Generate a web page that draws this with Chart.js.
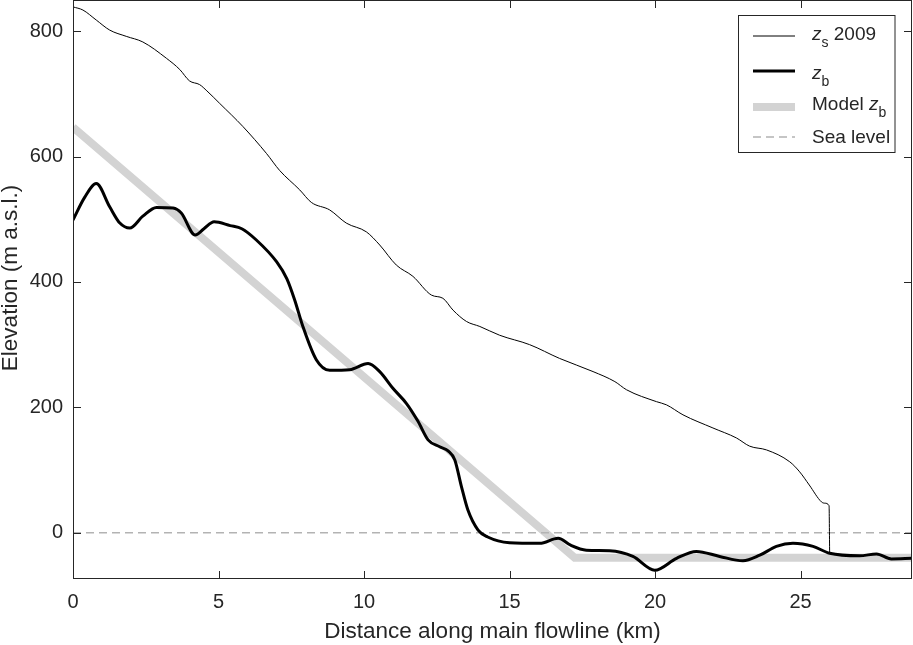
<!DOCTYPE html>
<html>
<head>
<meta charset="utf-8">
<script src="https://cdn.jsdelivr.net/npm/chart.js@4"></script>
<style>
html, body { margin: 0; padding: 0; background: #fff; }
</style>
</head>
<body>
<canvas id="profileChart" width="913" height="645"></canvas>
<script>
// distance along flowline (km) and elevation (m a.s.l.)
const surfaceKm = [0, 0.34, 0.8, 1.26, 1.83, 2.4, 3.21, 3.67, 4.0, 4.35, 4.6, 5.04, 5.84, 6.65, 7.1, 7.79, 8.19, 8.82, 9.39, 10.08, 10.54, 11.11, 11.68, 12.32, 12.71, 13.06, 13.52, 13.98, 14.66, 15.69, 16.72, 17.87, 18.62, 19.02, 20.05, 20.39, 20.96, 21.99, 22.8, 23.25, 23.83, 24.63, 24.97, 25.3, 25.72, 25.83, 25.98, 26.0];
const surface2009 = [839, 834, 818, 802, 792, 783, 757, 739, 721, 715, 705, 685, 648, 605, 578, 547, 527, 515, 494, 480, 459, 427, 409, 379, 374, 355, 337, 329, 315, 300, 278, 257, 241, 228, 209, 204, 188, 167, 151, 138, 132, 113, 97, 76, 49, 47, 43, -33];

const bedKm = [0, 0.4, 0.8, 1.26, 1.61, 1.95, 2.4, 2.87, 3.44, 3.72, 4.2, 4.5, 4.85, 5.4, 5.8, 6.3, 7.0, 7.35, 7.62, 7.9, 8.36, 8.82, 9.51, 10.14, 10.54, 11.0, 11.46, 11.85, 12.2, 12.6, 12.9, 13.12, 13.35, 13.57, 13.92, 14.25, 15.0, 16.04, 16.67, 17.1, 17.64, 18.44, 19.24, 19.99, 20.74, 21.42, 22.22, 23.02, 23.6, 24.17, 24.74, 25.43, 26.0, 27.03, 27.61, 28.12, 28.83];
const bedElev = [499, 535, 557, 520, 494, 486, 505, 519, 518, 510, 475, 485, 496, 490, 485, 467, 432, 405, 371, 329, 276, 259, 260, 270, 257, 230, 206, 178, 148, 137, 130, 116, 73, 36, 4, -7, -16, -17, -9, -20, -28, -29, -38, -60, -41, -30, -38, -45, -36, -22, -17, -22, -33, -37, -34, -42, -41];

const modelKm = [0, 17.24, 28.83];
const modelBed = [647, -40, -40];

const seaKm = [0, 28.83];
const seaLevel = [0, 0];

const xTicks = [0, 5, 10, 15, 20, 25];
const yTicks = [0, 200, 400, 600, 800];

const FONT = '"Liberation Sans", Arial, sans-serif';
const INK = '#262626';

function pts(xs, ys) {
    return xs.map((x, i) => ({ x: x, y: ys[i] }));
}

// MATLAB style box with inward ticks on all four sides, plus the y title
const boxPlugin = {
    id: 'boxTicks',
    afterDatasetsDraw(chart) {
        const ctx = chart.ctx;
        const a = chart.chartArea;
        const xs = chart.scales.x, ys = chart.scales.y;
        ctx.save();
        ctx.strokeStyle = INK;
        ctx.lineWidth = 1;
        ctx.beginPath();
        xTicks.forEach(v => {
            const px = Math.round(xs.getPixelForValue(v)) + 0.5;
            ctx.moveTo(px, a.bottom); ctx.lineTo(px, a.bottom - 8);
            ctx.moveTo(px, a.top); ctx.lineTo(px, a.top + 8);
        });
        yTicks.forEach(v => {
            const py = Math.round(ys.getPixelForValue(v)) + 0.5;
            ctx.moveTo(a.left, py); ctx.lineTo(a.left + 8, py);
            ctx.moveTo(a.right, py); ctx.lineTo(a.right - 8, py);
        });
        ctx.stroke();
        ctx.strokeRect(Math.round(a.left) + 0.5, Math.round(a.top) + 0.5,
            Math.round(a.right - a.left) - 1, Math.round(a.bottom - a.top) - 1);

        // y title sits a little above the axis middle in the original
        ctx.translate(11, 278);
        ctx.rotate(-Math.PI / 2);
        ctx.fillStyle = INK;
        ctx.font = '22.5px ' + FONT;
        ctx.textAlign = 'center';
        ctx.textBaseline = 'middle';
        ctx.fillText('Elevation (m a.s.l.)', 0, 0);
        ctx.restore();
    }
};

// legend with italic z and subscripts, drawn by hand
const legendPlugin = {
    id: 'zLegend',
    afterDraw(chart) {
        const ctx = chart.ctx;
        ctx.save();
        ctx.fillStyle = '#fff';
        ctx.fillRect(738.5, 15.5, 156.5, 137);
        ctx.strokeStyle = INK;
        ctx.lineWidth = 1;
        ctx.strokeRect(738.5, 15.5, 156.5, 137);

        const rows = [
            { lineY: 36, textY: 40, color: '#000', width: 1, dash: [], parts: [['z', 'i'], ['s', 'sub'], [' 2009', 'n']] },
            { lineY: 71, textY: 79, color: '#000', width: 3, dash: [], parts: [['z', 'i'], ['b', 'sub']] },
            { lineY: 107, textY: 110, color: '#d3d3d3', width: 8, dash: [], parts: [['Model ', 'n'], ['z', 'i'], ['b', 'sub']] },
            { lineY: 137, textY: 143, color: '#b3b3b3', width: 1.5, dash: [8, 5], parts: [['Sea level', 'n']] }
        ];
        rows.forEach(r => {
            ctx.beginPath();
            ctx.strokeStyle = r.color;
            ctx.lineWidth = r.width;
            ctx.setLineDash(r.dash);
            ctx.moveTo(753, r.lineY);
            ctx.lineTo(795, r.lineY);
            ctx.stroke();
            ctx.setLineDash([]);

            let x = 812;
            ctx.fillStyle = INK;
            ctx.textBaseline = 'alphabetic';
            ctx.textAlign = 'left';
            r.parts.forEach(([txt, kind]) => {
                let y = r.textY;
                if (kind === 'i') ctx.font = 'italic 19px ' + FONT;
                else if (kind === 'sub') { ctx.font = '14px ' + FONT; y += 7; }
                else ctx.font = '19px ' + FONT;
                ctx.fillText(txt, x, y);
                x += ctx.measureText(txt).width;
            });
        });
        ctx.restore();
    }
};

const ctx = document.getElementById('profileChart').getContext('2d');

new Chart(ctx, {
    type: 'line',
    data: {
        datasets: [
            {
                label: 'zs 2009',
                data: pts(surfaceKm, surface2009),
                borderColor: '#000',
                borderWidth: 1,
                pointRadius: 0,
                cubicInterpolationMode: 'monotone'
            },
            {
                label: 'zb',
                data: pts(bedKm, bedElev),
                borderColor: '#000',
                borderWidth: 3,
                pointRadius: 0,
                cubicInterpolationMode: 'monotone'
            },
            {
                label: 'Sea level',
                data: pts(seaKm, seaLevel),
                borderColor: '#b3b3b3',
                borderWidth: 1.5,
                borderDash: [8, 5],
                pointRadius: 0
            },
            {
                label: 'Model zb',
                data: pts(modelKm, modelBed),
                borderColor: '#d3d3d3',
                borderWidth: 8,
                pointRadius: 0,
                borderCapStyle: 'butt'
            }
        ]
    },
    options: {
        responsive: false,
        animation: false,
        layout: { padding: { top: 0, right: 1, left: 0, bottom: 0 } },
        plugins: {
            legend: { display: false },
            tooltip: { enabled: false }
        },
        scales: {
            x: {
                type: 'linear',
                min: 0,
                max: 28.83,
                afterFit(scale) {
                    scale.height = 66;
                    scale.paddingLeft = 0;
                    scale.paddingRight = 0;
                },
                afterBuildTicks(scale) { scale.ticks = xTicks.map(v => ({ value: v })); },
                grid: { display: false, drawTicks: false },
                border: { display: false },
                ticks: { color: INK, font: { family: FONT, size: 20 }, padding: 11, maxRotation: 0 },
                title: {
                    display: true,
                    text: 'Distance along main flowline (km)',
                    color: INK,
                    font: { family: FONT, size: 22.5 },
                    padding: 0
                }
            },
            y: {
                min: -74,
                max: 850,
                afterFit(scale) {
                    scale.width = 73;
                    scale.paddingTop = 0;
                    scale.paddingBottom = 0;
                },
                afterBuildTicks(scale) { scale.ticks = yTicks.map(v => ({ value: v })); },
                grid: { display: false, drawTicks: false },
                border: { display: false },
                ticks: { color: INK, font: { family: FONT, size: 20 }, padding: 10 },
                title: { display: false }
            }
        }
    },
    plugins: [boxPlugin, legendPlugin]
});
</script>
</body>
</html>
